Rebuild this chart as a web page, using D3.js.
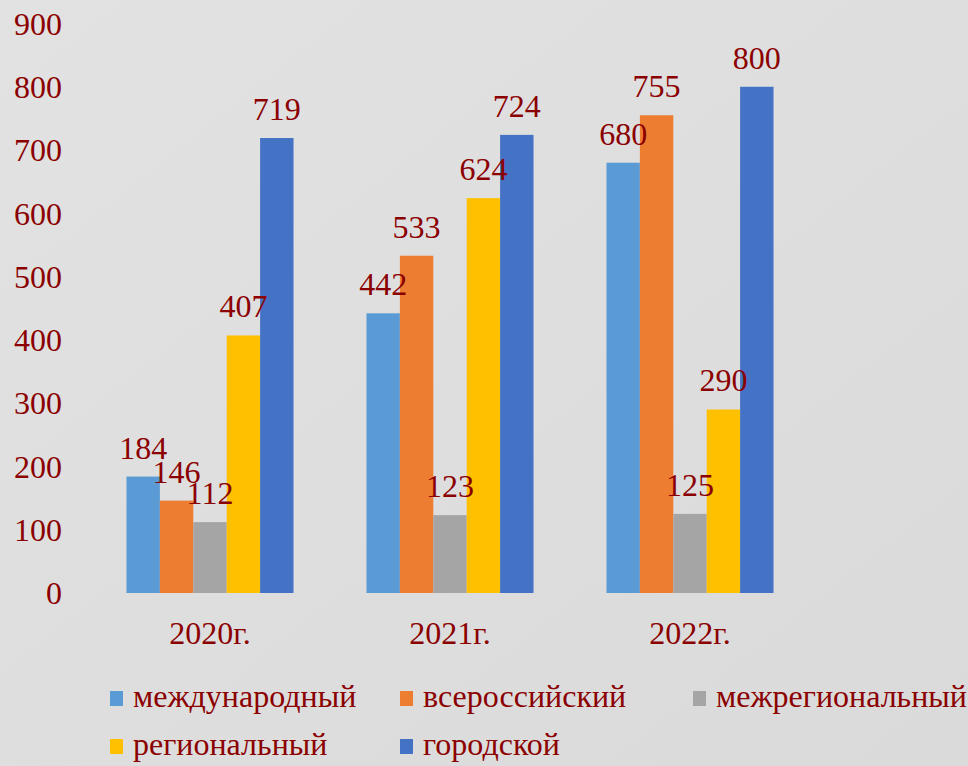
<!DOCTYPE html>
<head>
  <meta charset="utf-8">
  <script src="https://d3js.org/d3.v7.min.js"></script>
  <style>
    body { margin:0; background:#dedede; }
    svg { display:block; }
  </style>
</head>
<body>
  <svg id="chart" width="968" height="766"></svg>
  <script>
    // data
    const years = ["2020г.", "2021г.", "2022г."];
    const series = ["международный", "всероссийский", "межрегиональный", "региональный", "городской"];
    const colors = ["#5b9bd5", "#ed7d31", "#a5a5a5", "#ffc000", "#4472c4"];
    const values = [
      [184, 442, 680],  // международный
      [146, 533, 755],  // всероссийский
      [112, 123, 125],  // межрегиональный
      [407, 624, 290],  // региональный
      [719, 724, 800]   // городской
    ];
    const yTicks = [0, 100, 200, 300, 400, 500, 600, 700, 800, 900];

    const textColor = "#8b0000";
    const font = "'Liberation Serif', 'Times New Roman', serif";
    const fs = 32;

    const svg = d3.select("#chart")
      .style("font-family", font);

    // background with a soft gradient
    const defs = svg.append("defs");
    const grad = defs.append("linearGradient").attr("id", "bg")
      .attr("x1", 0).attr("y1", 0).attr("x2", 1).attr("y2", 1);
    grad.append("stop").attr("offset", "0%").attr("stop-color", "#e2e2e2");
    grad.append("stop").attr("offset", "100%").attr("stop-color", "#dadada");
    svg.append("rect").attr("width", 968).attr("height", 766).attr("fill", "url(#bg)");

    const x0 = d3.scaleBand().domain(years).range([90, 810])
      .paddingInner(0.304).paddingOuter(0.152);
    const x1 = d3.scaleBand().domain(series).range([0, x0.bandwidth()]);
    const y = d3.scaleLinear().domain([0, 900]).range([593, 23.5]);

    // y axis labels
    svg.append("g").selectAll("text")
      .data(yTicks).join("text")
      .attr("x", 62)
      .attr("y", d => y(d))
      .attr("dy", "0.35em")
      .attr("text-anchor", "end")
      .attr("font-size", fs)
      .attr("fill", textColor)
      .text(d => d);

    // bars
    const rows = [];
    series.forEach((s, si) => years.forEach((yr, yi) => rows.push({ s, si, yr, v: values[si][yi] })));

    const g = svg.append("g");
    g.selectAll("rect").data(rows).join("rect")
      .attr("x", d => x0(d.yr) + x1(d.s))
      .attr("y", d => y(d.v))
      .attr("width", x1.bandwidth())
      .attr("height", d => y(0) - y(d.v))
      .attr("fill", d => colors[d.si]);

    // value labels
    g.selectAll("text").data(rows).join("text")
      .attr("x", d => x0(d.yr) + x1(d.s) + x1.bandwidth() / 2)
      .attr("y", d => y(d.v) - 18)
      .attr("text-anchor", "middle")
      .attr("font-size", fs)
      .attr("fill", textColor)
      .text(d => d.v);

    // category labels
    svg.append("g").selectAll("text")
      .data(years).join("text")
      .attr("x", d => x0(d) + x0.bandwidth() / 2)
      .attr("y", 644)
      .attr("text-anchor", "middle")
      .attr("font-size", fs)
      .attr("fill", textColor)
      .text(d => d);

    // legend
    const legX = [110, 400, 693];
    const legY = [707, 755];
    const leg = svg.append("g").selectAll("g")
      .data(series).join("g")
      .attr("transform", (d, i) => `translate(${legX[i % 3]},${legY[Math.floor(i / 3)]})`);
    leg.append("rect")
      .attr("x", 0).attr("y", -16)
      .attr("width", 13).attr("height", 15)
      .attr("fill", (d, i) => colors[i]);
    leg.append("text")
      .attr("x", 23)
      .attr("font-size", fs)
      .attr("fill", textColor)
      .text(d => d);
  </script>
</body>
